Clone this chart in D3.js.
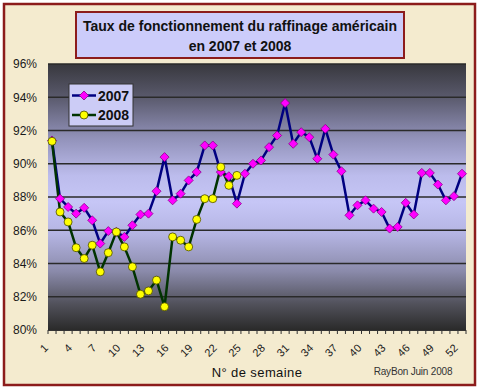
<!DOCTYPE html>
<html>
<head>
<meta charset="utf-8">
<script src="https://cdn.jsdelivr.net/npm/d3@7"></script>
<style>
  body { margin: 0; background: #ffffff; }
  svg { display: block; }
</style>
</head>
<body>
<div id="chart"></div>
<script>
// semaines (catégories)
var weeks = [1,2,3,4,5,6,7,8,9,10,11,12,13,14,15,16,17,18,19,20,21,22,23,24,25,26,
  27,28,29,30,31,32,33,34,35,36,37,38,39,40,41,42,43,44,45,46,47,48,49,50,51,52];
var weekLabels = [1,4,7,10,13,16,19,22,25,28,31,34,37,40,43,46,49,52];
var yTicks = [80,82,84,86,88,90,92,94,96];

// taux de fonctionnement (%)
var values2007 = [91.4,87.9,87.4,87.0,87.35,86.6,85.2,85.95,85.9,85.6,86.3,86.95,87.0,
  88.35,90.4,87.8,88.2,89.0,89.5,91.1,91.1,89.5,89.25,87.6,89.4,90.0,90.2,91.0,91.7,
  93.65,91.2,91.9,91.6,90.3,92.1,90.55,89.55,86.9,87.5,87.8,87.3,87.1,86.1,86.2,87.65,
  86.95,89.45,89.45,88.75,87.8,88.05,89.4];
var values2008 = [91.35,87.1,86.5,84.95,84.3,85.1,83.5,84.65,85.9,85.0,83.8,82.15,
  82.35,83.0,81.4,85.6,85.4,85.0,86.65,87.9,87.9,89.8,88.7,89.3];

var W = 480, H = 389;
var plot = {left: 48, right: 466, top: 64, bottom: 330};

var svg = d3.select("#chart").append("svg")
  .attr("width", W)
  .attr("height", H);

var defs = svg.append("defs");

// fond du graphique : sombre en haut et en bas, lavande au centre
var grad = defs.append("linearGradient")
  .attr("id", "plotbg")
  .attr("x1", 0).attr("y1", 0).attr("x2", 0).attr("y2", 1);
[[0, "#38383e"], [0.12, "#58586a"], [0.28, "#9292ba"], [0.42, "#bcbcec"],
 [0.52, "#c6c6f6"], [0.64, "#b4b4e2"], [0.78, "#8a8aaa"], [0.9, "#52525c"], [1, "#2a2a2a"]]
  .forEach(function(s) {
    grad.append("stop").attr("offset", s[0]).attr("stop-color", s[1]);
  });

// cadre extérieur
svg.append("rect")
  .attr("x", 0).attr("y", 0).attr("width", W).attr("height", H)
  .attr("fill", "#ffffff");
svg.append("rect")
  .attr("x", 4).attr("y", 4).attr("width", 471).attr("height", 381)
  .attr("fill", "#f4ebcf")
  .attr("stroke", "#8c1c1c")
  .attr("stroke-width", 2.5);

// échelles
var x = d3.scaleBand().domain(weeks).range([plot.left, plot.right]).padding(0);
var y = d3.scaleLinear().domain([80, 96]).range([plot.bottom, plot.top]);
var cx = function(w) { return x(w) + x.bandwidth() / 2; };

// zone de tracé
svg.append("rect")
  .attr("x", plot.left).attr("y", plot.top)
  .attr("width", plot.right - plot.left).attr("height", plot.bottom - plot.top)
  .attr("fill", "url(#plotbg)");

// quadrillage horizontal
svg.append("g")
  .selectAll("line")
  .data(yTicks.slice(1))
  .join("line")
  .attr("x1", plot.left).attr("x2", plot.right)
  .attr("y1", d => y(d)).attr("y2", d => y(d))
  .attr("stroke", "#2a2a2a")
  .attr("stroke-width", 1.5);

// axe vertical
var yAxis = svg.append("g")
  .attr("transform", "translate(" + plot.left + ",0)")
  .call(d3.axisLeft(y).tickValues(yTicks).tickFormat(d => d + "%").tickSize(0).tickPadding(11));
yAxis.select(".domain").remove();
yAxis.selectAll("text")
  .style("font-family", "Arial, 'Liberation Sans', sans-serif")
  .style("font-size", "12px")
  .attr("fill", "#1a1a1a");

// axe horizontal : graduations entre catégories
var xTickPos = weeks.map(w => x(w)).concat([plot.right]);
svg.append("g")
  .selectAll("line")
  .data(xTickPos)
  .join("line")
  .attr("x1", d => d).attr("x2", d => d)
  .attr("y1", plot.bottom).attr("y2", plot.bottom + 4)
  .attr("stroke", "#333")
  .attr("stroke-width", 1);
svg.append("line")
  .attr("x1", plot.left).attr("x2", plot.right)
  .attr("y1", plot.bottom + 0.5).attr("y2", plot.bottom + 0.5)
  .attr("stroke", "#333");

svg.append("g")
  .selectAll("text")
  .data(weekLabels)
  .join("text")
  .attr("transform", d => "translate(" + (cx(d) - 6) + "," + (plot.bottom + 16) + ") rotate(-45)")
  .attr("text-anchor", "end")
  .attr("dy", "0.35em")
  .style("font-family", "Arial, 'Liberation Sans', sans-serif")
  .style("font-size", "11px")
  .attr("fill", "#1a1a1a")
  .text(d => d);

// courbes
var line = d3.line()
  .x((d, i) => cx(weeks[i]))
  .y(d => y(d));

svg.append("path")
  .datum(values2007)
  .attr("d", line)
  .attr("fill", "none")
  .attr("stroke", "#000080")
  .attr("stroke-width", 2.5)
  .attr("stroke-linejoin", "round");

svg.append("path")
  .datum(values2008)
  .attr("d", line)
  .attr("fill", "none")
  .attr("stroke", "#003300")
  .attr("stroke-width", 2.5)
  .attr("stroke-linejoin", "round");

var diamond = "M0,-4.5 L4.5,0 L0,4.5 L-4.5,0 Z";

svg.append("g")
  .selectAll("path")
  .data(values2007)
  .join("path")
  .attr("d", diamond)
  .attr("transform", (d, i) => "translate(" + cx(weeks[i]) + "," + y(d) + ")")
  .attr("fill", "#ff00ff")
  .attr("stroke", "#8a008a")
  .attr("stroke-width", 0.8);

svg.append("g")
  .selectAll("circle")
  .data(values2008)
  .join("circle")
  .attr("cx", (d, i) => cx(weeks[i]))
  .attr("cy", d => y(d))
  .attr("r", 4)
  .attr("fill", "#ffff00")
  .attr("stroke", "#4a4a00")
  .attr("stroke-width", 0.8);

// légende
var legend = svg.append("g");
legend.append("rect")
  .attr("x", 69).attr("y", 84).attr("width", 64).attr("height", 42)
  .attr("fill", "#ccccf6")
  .attr("stroke", "#333")
  .attr("stroke-width", 1);

var series = [
  {name: "2007", stroke: "#000080"},
  {name: "2008", stroke: "#003300"}
];
series.forEach(function(s, i) {
  var ly = 95.5 + i * 19.5;
  legend.append("line")
    .attr("x1", 72).attr("x2", 96).attr("y1", ly).attr("y2", ly)
    .attr("stroke", s.stroke).attr("stroke-width", 2.5);
  if (i === 0) {
    legend.append("path")
      .attr("d", diamond)
      .attr("transform", "translate(84," + ly + ")")
      .attr("fill", "#ff00ff").attr("stroke", "#8a008a").attr("stroke-width", 0.8);
  } else {
    legend.append("circle")
      .attr("cx", 84).attr("cy", ly).attr("r", 4)
      .attr("fill", "#ffff00").attr("stroke", "#4a4a00").attr("stroke-width", 0.8);
  }
  legend.append("text")
    .attr("x", 98).attr("y", ly)
    .attr("dy", "0.36em")
    .style("font-family", "Arial, 'Liberation Sans', sans-serif")
    .style("font-size", "14px")
    .style("font-weight", "bold")
    .attr("fill", "#111")
    .text(s.name);
});

// titre
svg.append("rect")
  .attr("x", 76).attr("y", 12).attr("width", 328).attr("height", 46)
  .attr("fill", "#ccccfa")
  .attr("stroke", "#8c1c1c")
  .attr("stroke-width", 2);
var title = svg.append("text")
  .attr("text-anchor", "middle")
  .style("font-family", "Arial, 'Liberation Sans', sans-serif")
  .style("font-size", "14px")
  .style("font-weight", "bold")
  .attr("fill", "#111");
title.append("tspan").attr("x", 240).attr("y", 31).text("Taux de fonctionnement du raffinage américain");
title.append("tspan").attr("x", 240).attr("y", 51).text("en 2007 et 2008");

// titre de l'axe et signature
svg.append("text")
  .attr("x", 257).attr("y", 377)
  .attr("text-anchor", "middle")
  .style("font-family", "Arial, 'Liberation Sans', sans-serif")
  .style("font-size", "13px")
  .style("letter-spacing", "0.4px")
  .attr("fill", "#111")
  .text("N° de semaine");

svg.append("text")
  .attr("x", 413).attr("y", 375)
  .attr("text-anchor", "middle")
  .style("font-family", "Arial, 'Liberation Sans', sans-serif")
  .style("font-size", "10px")
  .style("letter-spacing", "-0.2px")
  .attr("fill", "#333")
  .text("RayBon Juin 2008");
</script>
</body>
</html>
